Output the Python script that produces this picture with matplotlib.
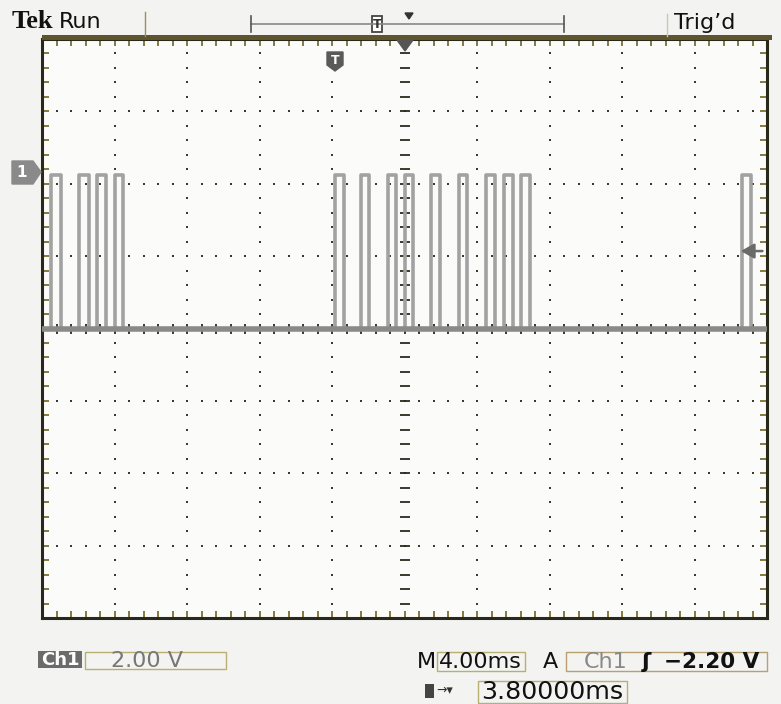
import numpy as np
import matplotlib
matplotlib.use("Agg")
import matplotlib.pyplot as plt
from matplotlib.patches import Rectangle, Polygon

pulse_starts_ms = [0.51, 2.06, 3.03, 4.01, 16.18, 17.60, 19.11, 20.00, 21.48,
                   22.99, 24.52, 25.48, 26.42, 38.63]
pulse_ends_ms = [1.06, 2.57, 3.53, 4.47, 16.65, 18.06, 19.54, 20.46, 21.94,
                 23.45, 24.98, 25.96, 26.92, 39.13]
low_level_v = -4.35
high_level_v = -0.1
screen_ms = [0.0, 40.0]
volts_per_div = 2.0
ms_per_div = 4.0
ground_offset_div = 1.83  # ground marker below top edge, divisions
trigger_level_v = -2.20

W, H = 781, 704
fig = plt.figure(figsize=(W / 100, H / 100), dpi=100)
fig.patch.set_facecolor("#f3f3f1")
sans = ["DejaVu Sans"]
serif = ["Liberation Serif", "DejaVu Serif"]

def fx(x):
    return x / W

def fy(y):
    return 1 - y / H

L, R, T, B = 42, 767, 39, 618
ax = fig.add_axes([fx(L), fy(B), fx(R) - fx(L), fy(T) - fy(B)])
ax.set_facecolor("#fbfbfa")

ytop = ground_offset_div * volts_per_div
ybot = ytop - 8 * volts_per_div
ax.set_xlim(*screen_ms)
ax.set_ylim(ybot, ytop)
xc = (screen_ms[0] + screen_ms[1]) / 2
yc = (ytop + ybot) / 2

# graticule dots
xs_major = np.arange(screen_ms[0], screen_ms[1] + 0.01, ms_per_div)
ys_major = ybot + np.arange(0, 9) * volts_per_div
xs_minor = np.arange(screen_ms[0], screen_ms[1] + 0.01, ms_per_div / 5)
ys_minor = ybot + np.arange(0, 41) * volts_per_div / 5
dotc = "#3a3a30"
for gx in xs_major[1:-1]:
    if abs(gx - xc) < 1e-6:
        continue
    ax.plot(np.full_like(ys_minor, gx), ys_minor, ls="none", marker="s",
            ms=1.6, color=dotc, mew=0)
for gy in ys_major[1:-1]:
    if abs(gy - yc) < 1e-6:
        continue
    ax.plot(xs_minor, np.full_like(xs_minor, gy), ls="none", marker="s",
            ms=1.6, color=dotc, mew=0)
# center cross ticks
ax.plot(np.full_like(ys_minor, xc), ys_minor, ls="none", marker="_", ms=7,
        mew=1.3, color="#2a2a20")
ax.plot(xs_minor, np.full_like(xs_minor, yc), ls="none", marker="|", ms=7,
        mew=1.3, color="#2a2a20")

# trace
t = [screen_ms[0]]
v = [low_level_v]
for s, e in zip(pulse_starts_ms, pulse_ends_ms):
    t += [s, s, e, e]
    v += [low_level_v, high_level_v, high_level_v, low_level_v]
t.append(screen_ms[1])
v.append(low_level_v)
ax.plot(t, v, color="#a2a2a2", lw=2.6, solid_joinstyle="round", zorder=3)
ax.plot([screen_ms[0], screen_ms[1]], [low_level_v, low_level_v],
        color="#8a8a88", lw=4.0, zorder=3)

# border + ticks
for sp in ax.spines.values():
    sp.set_color("#2a2818")
    sp.set_linewidth(2.2)
ax.set_xticks(xs_minor)
ax.set_yticks(ys_minor)
ax.tick_params(which="major", direction="in", length=5, width=1.2,
               colors="#6e6420", top=True, right=True,
               labelbottom=False, labelleft=False)

# top bar
fig.add_artist(Rectangle((fx(42), fy(40)), fx(772) - fx(42), fy(35) - fy(40),
                         color="#5e5530", transform=fig.transFigure, lw=0))
fig.add_artist(plt.Line2D([fx(145), fx(145)], [fy(12), fy(36)],
                          color="#9a9060", lw=1.0, transform=fig.transFigure))
fig.add_artist(plt.Line2D([fx(667), fx(667)], [fy(14), fy(36)],
                          color="#c8c8b8", lw=1.0, transform=fig.transFigure))
fig.text(fx(12), fy(22), "Tek", fontsize=19, fontweight="bold",
         family=serif, va="center", color="#111")
fig.text(fx(59), fy(22), "Run", fontsize=16, family=sans, va="center",
         color="#111")
fig.text(fx(674), fy(23), "Trig\u2019d", fontsize=16, family=sans,
         va="center", color="#111")
# record view bracket
fig.add_artist(plt.Line2D([fx(251), fx(564)], [fy(24), fy(24)], color="#888",
                          lw=1.2, transform=fig.transFigure))
for bx in (251, 564):
    fig.add_artist(plt.Line2D([fx(bx), fx(bx)], [fy(16), fy(32)], color="#555",
                              lw=1.2, transform=fig.transFigure))
fig.add_artist(Rectangle((fx(372), fy(32)), fx(10), fy(16) - fy(32),
                         facecolor="#ffffff", edgecolor="#444", lw=1.3,
                         transform=fig.transFigure))
fig.text(fx(377), fy(24), "T", fontsize=9, fontweight="bold", ha="center",
         va="center", color="#333")
fig.add_artist(Polygon([(fx(405), fy(13)), (fx(413), fy(13)), (fx(409), fy(19))],
                       closed=True, color="#333", transform=fig.transFigure))

# trigger position marker on graticule top
fig.add_artist(Polygon([(fx(397), fy(40)), (fx(413), fy(40)), (fx(405), fy(51))],
                       closed=True, color="#555", transform=fig.transFigure,
                       zorder=5))
# trigger T marker
fig.add_artist(Polygon([(fx(327), fy(52)), (fx(343), fy(52)), (fx(343), fy(65)),
                        (fx(335), fy(71)), (fx(327), fy(65))], closed=True,
                       color="#5a5a5a", transform=fig.transFigure, zorder=5))
fig.text(fx(335), fy(60), "T", fontsize=9, fontweight="bold", ha="center",
         va="center", color="white", zorder=6)
# channel 1 ground marker
fig.add_artist(Polygon([(fx(12), fy(161)), (fx(33), fy(161)), (fx(41), fy(172)),
                        (fx(33), fy(184)), (fx(12), fy(184))], closed=True,
                       color="#8a8a8a", transform=fig.transFigure, zorder=5))
fig.text(fx(22), fy(172.5), "1", fontsize=11, fontweight="bold", ha="center",
         va="center", color="white", zorder=6)
# trigger level arrow on right
ax.annotate("", xy=(38.4, trigger_level_v), xytext=(39.9, trigger_level_v),
            arrowprops=dict(arrowstyle="-|>,head_length=0.8,head_width=0.45",
                            color="#6a6a6a", lw=1.8),
            zorder=6)

# bottom readouts
fig.add_artist(Rectangle((fx(38), fy(668)), fx(44), fy(651) - fy(668),
                         color="#6b6b6b", transform=fig.transFigure, lw=0))
fig.text(fx(60), fy(660), "Ch1", fontsize=13, fontweight="bold", family=sans,
         ha="center", va="center", color="white")
fig.add_artist(Rectangle((fx(85), fy(669)), fx(226) - fx(85), fy(652) - fy(669),
                         facecolor="none", edgecolor="#b8b070", lw=1.0,
                         transform=fig.transFigure))
fig.text(fx(111), fy(661), "2.00 V", fontsize=16, family=sans, va="center",
         color="#777")
fig.text(fx(417), fy(662), "M", fontsize=16, family=sans, va="center",
         color="#111")
fig.add_artist(Rectangle((fx(437), fy(671)), fx(525) - fx(437), fy(652) - fy(671),
                         facecolor="none", edgecolor="#b8b070", lw=1.0,
                         transform=fig.transFigure))
fig.text(fx(439), fy(662), "4.00ms", fontsize=16, family=sans, va="center",
         color="#111")
fig.text(fx(543), fy(662), "A", fontsize=16, family=sans, va="center",
         color="#111")
fig.add_artist(Rectangle((fx(566), fy(671)), fx(767) - fx(566), fy(652) - fy(671),
                         facecolor="none", edgecolor="#b8a070", lw=1.0,
                         transform=fig.transFigure))
fig.text(fx(584), fy(662), "Ch1", fontsize=16, family=sans, va="center",
         color="#888")
fig.text(fx(642), fy(662), "\u0283", fontsize=16, family=sans,
         fontweight="bold", va="center", color="#111")
fig.text(fx(664), fy(662), "\u22122.20 V", fontsize=15.5, family=sans,
         fontweight="bold", va="center", color="#111")
# delay readout
fig.add_artist(Rectangle((fx(425), fy(698)), fx(9), fy(684) - fy(698),
                         color="#444", transform=fig.transFigure, lw=0))
fig.text(fx(436), fy(691), "\u2192\u25be", fontsize=9, family=sans,
         va="center", color="#333")
fig.add_artist(Rectangle((fx(478), fy(703)), fx(627) - fx(478), fy(681) - fy(703),
                         facecolor="none", edgecolor="#b8b070", lw=1.0,
                         transform=fig.transFigure))
fig.text(fx(481), fy(692), "3.80000ms", fontsize=18.3, family=sans,
         va="center", color="#111")

fig.savefig("out.png", dpi=100, facecolor=fig.get_facecolor())
